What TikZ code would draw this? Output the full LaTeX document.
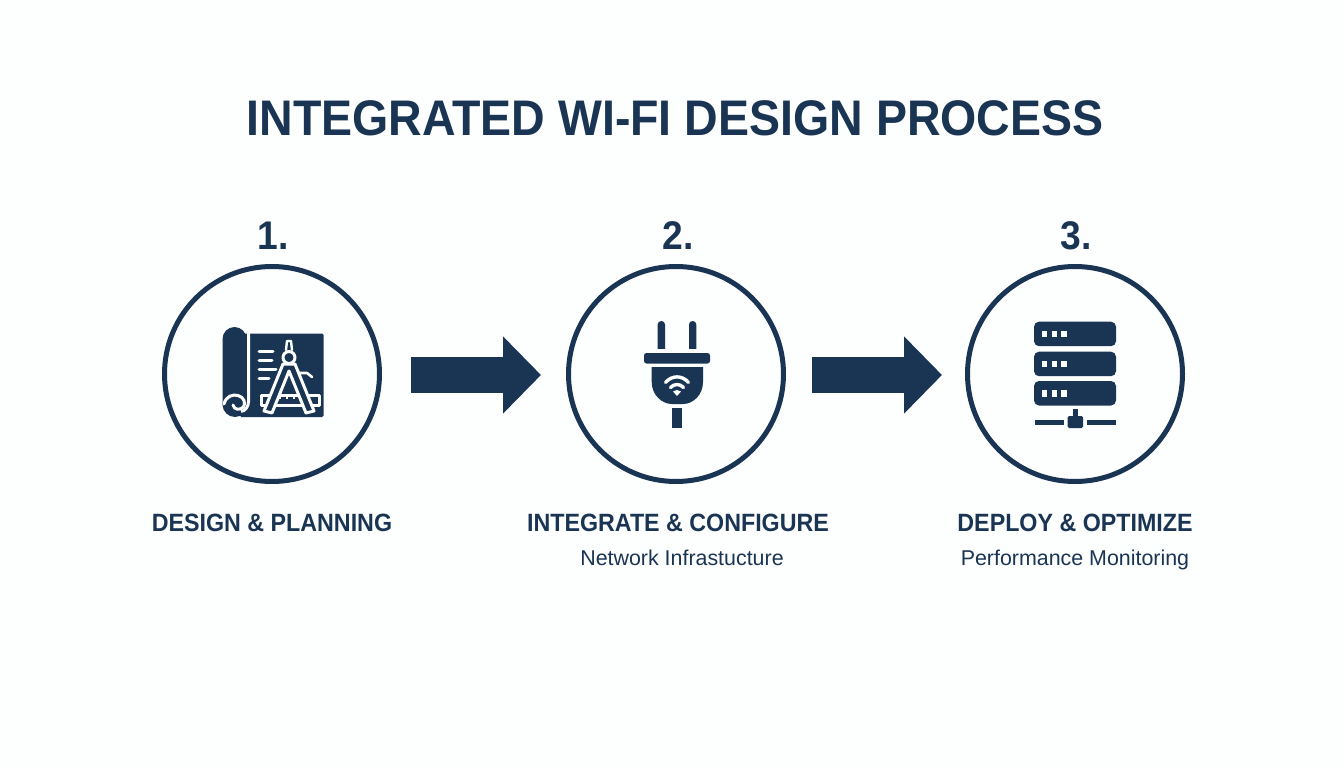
\documentclass[tikz,border=0pt]{standalone}
\usepackage{fontspec}
\setmainfont{Liberation Sans}
\newfontfamily\narrowfont[FakeStretch=0.93]{Liberation Sans}
\usepackage{xcolor}
\usetikzlibrary{arrows.meta, positioning, calc}
\definecolor{navy}{HTML}{1A3553}
\definecolor{paper}{HTML}{FDFEFE}

\begin{document}
\begin{tikzpicture}[
    x=1pt, y=-1pt,
    step circle/.style={circle, draw=navy, line width=5pt, minimum size=215pt, inner sep=0pt},
    title text/.style={text=navy, anchor=base, font=\narrowfont\fontsize{50}{50}\selectfont\bfseries, inner sep=0pt},
    number text/.style={text=navy, anchor=base, font=\narrowfont\fontsize{40}{40}\selectfont\bfseries, inner sep=0pt},
    head text/.style={text=navy, anchor=base, font=\narrowfont\fontsize{25}{25}\selectfont\bfseries, inner sep=0pt},
    sub text/.style={text=navy, anchor=base, font=\fontsize{21.4}{21.4}\selectfont, inner sep=0pt},
    block arrow/.style={navy, line width=36pt, -{Triangle[length=38pt, width=75pt]}},
    ink/.style={fill=navy, draw=none},
    gap/.style={draw=paper, line width=3pt, line cap=round, line join=round}
]
\fill[paper] (0,0) rectangle (1344,768);

% Title
\node[title text] (title) at (675,135) {INTEGRATED WI-FI DESIGN PROCESS};

% Step circles
\node[step circle] (design) at (272,374) {};
\node[step circle] (integrate) at (676,374) {};
\node[step circle] (deploy) at (1075,374) {};

% Numbers above the circles
\node[number text] (one) at (273,249) {1.};
\node[number text] (two) at (678,249) {2.};
\node[number text] (three) at (1076,249) {3.};

% Labels below the circles
\node[head text] (designlabel) at (272,531) {DESIGN \& PLANNING};
\node[head text] (integratelabel) at (678,531) {INTEGRATE \& CONFIGURE};
\node[head text] (deploylabel) at (1075,531) {DEPLOY \& OPTIMIZE};
\node[sub text] (integratesub) at (682,565) {Network Infrastucture};
\node[sub text] (deploysub) at (1075,565) {Performance Monitoring};

% Arrows between the steps
\draw[block arrow, shorten <=29pt, shorten >=25pt] ([yshift=-1pt]design.east) -- ([yshift=-1pt]integrate.west);
\draw[block arrow, shorten <=26pt, shorten >=23pt] ([yshift=-1pt]integrate.east) -- ([yshift=-1pt]deploy.west);

% Blueprint icon
\fill[ink, rounded corners=1.5pt] (240,333.5) rectangle (323.5,417);
\fill[ink] (222.5,405) -- (222.5,339) arc[start angle=180, end angle=360, radius=12] -- (246.5,405) -- cycle;
\fill[ink] (235,404.5) circle[radius=12.5];
\draw[gap, line cap=butt] (248.6,333) -- (248.6,401) .. controls (248.6,407) and (245,411) .. (241,411.5);
\draw[gap] (224,404) .. controls (226,396) and (233,394) .. (238,395.5)
    .. controls (244,397) and (246,403) .. (243.5,407)
    .. controls (240,410.5) and (234,410) .. (233,405);
\draw[gap] (259,351) -- (273,351);
\draw[gap] (259,360) -- (272,360);
\draw[gap] (259,369.5) -- (276,369.5);
\draw[gap] (259,378.5) -- (269,378.5);
\draw[gap, fill=navy] (261,395) rectangle (319,405);
\draw[gap, line width=1.8pt, line cap=butt] (280,395) -- (280,399) (287,395) -- (287,399) (294,395) -- (294,399) (301,395) -- (301,399);
\draw[gap, line width=2.6pt] (298,373) -- (307,373) -- (312,377);
\draw[gap, fill=navy] (283,364) -- (264,411) -- (272,413) -- (289,371) -- (306,413) -- (314,411) -- (295,364) -- cycle;
\draw[gap, fill=navy] (289,357.5) circle[radius=6];
\draw[gap, line width=2.4pt] (286,350) -- (287,341) -- (291,341) -- (292,350);

% Plug icon
\fill[ink, rounded corners=3.5pt] (657.7,321) rectangle (665,360);
\fill[ink, rounded corners=3.5pt] (689,321) rectangle (696.3,360);
\fill[paper] (650,349.3) rectangle (704,353);
\fill[ink, rounded corners=2.5pt] (644,353) rectangle (710,363.5);
\fill[ink] (651.7,367) -- (703,367) -- (703,382) .. controls (703,395) and (693,404) .. (683,404)
    -- (672,404) .. controls (662,404) and (651.7,395) .. (651.7,382) -- cycle;
\fill[ink] (672.3,408) rectangle (681.7,427.5);
\draw[gap, line width=3.4pt] (665.5,382.5) .. controls (672,375) and (682,375) .. (688.5,382.5);
\draw[gap, line width=3.4pt] (670.5,387.5) .. controls (674,383.5) and (680,383.5) .. (683.5,387.5);
\fill[paper] (677,396) -- (673,391.5) .. controls (675.5,389.5) and (678.5,389.5) .. (681,391.5) -- cycle;

% Server icon
\foreach \top in {321.7,351.7,381}{
    \fill[ink, rounded corners=5pt] (1034,\top) rectangle (1116,\top+24.5);
    \foreach \dot in {1041.7,1051.7,1061.3}
        \fill[paper] (\dot,\top+9) rectangle (\dot+5.6,\top+15.6);
}
\fill[ink] (1073,409) rectangle (1077.5,417);
\fill[ink, rounded corners=1.5pt] (1067.7,416) rectangle (1083,428);
\fill[ink] (1035,420) rectangle (1064,424.7);
\fill[ink] (1087,420) rectangle (1116,424.7);

\end{tikzpicture}
\end{document}
